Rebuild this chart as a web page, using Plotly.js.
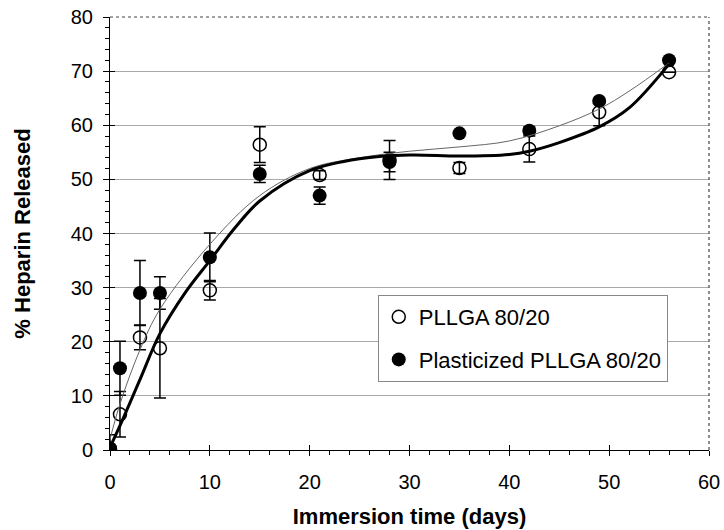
<!DOCTYPE html>
<html>
<head>
<meta charset="utf-8">
<script src="https://cdn.plot.ly/plotly-3.0.1.min.js"></script>
<style>html,body{margin:0;padding:0;background:#fff;}#chart{width:724px;height:530px;}</style>
</head>
<body>
<div id="chart"></div>
<script>
// Data
const days = [0, 1, 3, 5, 10, 15, 21, 28, 35, 42, 49, 56];
const pllga = [0.2, 6.6, 20.8, 18.8, 29.5, 56.4, 50.8, 53.6, 52.1, 55.6, 62.4, 69.8];
const pllgaErr = [2.6, 4.2, 2.3, 9.2, 1.8, 3.3, 0.8, 3.6, 1.0, 2.4, 2.5, 0];
const plast = [0.3, 15.1, 29.0, 29.0, 35.6, 51.0, 47.0, 53.2, 58.5, 59.0, 64.5, 72.0];
const plastErr = [0, 5.0, 6.0, 3.0, 4.5, 1.6, 1.6, 1.8, 0, 0.7, 0, 0];

// Trend lines
const thinX = [0, 1, 3, 5, 10, 15, 20, 25, 30, 35, 40, 45, 49, 52, 56];
const thinY = [2, 8.5, 18.5, 26, 38, 47, 52, 54, 55.2, 56.0, 57.1, 59.9, 63.0, 66.3, 71.5];
const thickX = [0, 1, 3, 5, 7.5, 10, 12.5, 15, 20, 25, 30, 35, 40, 42, 45, 49, 52, 56];
const thickY = [0.5, 4.5, 13, 21.5, 29, 35, 41, 46, 51.6, 53.8, 54.5, 54.3, 54.6, 55.2, 56.8, 59.7, 63.2, 71.3];

const seriesNames = ['PLLGA 80/20', 'Plasticized PLLGA 80/20'];
const xTitle = 'Immersion time (days)';
const yTitle = '% Heparin Released';

const FONT = 'Liberation Sans, Arial, sans-serif';

const traces = [
  {
    x: thinX, y: thinY, type: 'scatter', mode: 'lines',
    line: {color: '#666', width: 1, shape: 'spline', smoothing: 1},
    showlegend: false, hoverinfo: 'skip', xaxis: 'x2', yaxis: 'y2'
  },
  {
    x: thickX, y: thickY, type: 'scatter', mode: 'lines',
    line: {color: '#000', width: 3, shape: 'spline', smoothing: 1},
    showlegend: false, hoverinfo: 'skip', xaxis: 'x2', yaxis: 'y2'
  },
  {
    x: days, y: pllga, name: seriesNames[0], type: 'scatter', mode: 'markers',
    marker: {symbol: 'circle-open', size: 13, color: '#000', line: {width: 1.5, color: '#000'}},
    error_y: {type: 'data', array: pllgaErr, visible: true, color: '#000', thickness: 1.5, width: 6},
    legendgroup: 'a'
  },
  {
    x: days, y: plast, name: seriesNames[1], type: 'scatter', mode: 'markers',
    marker: {symbol: 'circle', size: 14, color: '#000'},
    error_y: {type: 'data', array: plastErr, visible: true, color: '#000', thickness: 1.5, width: 6},
    legendgroup: 'b'
  }
];

const layout = {
  width: 724, height: 530,
  margin: {l: 110, r: 15, t: 17, b: 80},
  paper_bgcolor: '#fff', plot_bgcolor: '#fff',
  font: {family: FONT, size: 20, color: '#000'},
  showlegend: true,
  legend: {
    x: 0.447, y: 0.358, xanchor: 'left', yanchor: 'top',
    bgcolor: '#fff', bordercolor: '#888', borderwidth: 1,
    font: {family: FONT, size: 22, color: '#000'},
    traceorder: 'grouped', tracegroupgap: 11, itemwidth: 30
  },
  xaxis: {
    range: [0, 60], dtick: 10, tick0: 0,
    showgrid: false, zeroline: false,
    showline: true, linecolor: '#000', linewidth: 1,
    ticks: 'outside', ticklen: 5, tickcolor: '#000', tickwidth: 1,
    minor: {dtick: 2, ticks: 'outside', ticklen: 4, tickcolor: '#000', showgrid: false},
    ticklabelstandoff: 9,
    tickfont: {family: FONT, size: 20, color: '#000'},
    title: {text: xTitle, font: {family: FONT, size: 22, color: '#000', weight: 'bold'}, standoff: 16},
    fixedrange: true
  },
  yaxis: {
    range: [0, 80], dtick: 10, tick0: 0,
    showgrid: true, gridcolor: '#aaa', gridwidth: 1, zeroline: false,
    showline: true, linecolor: '#000', linewidth: 1,
    ticks: 'outside', ticklen: 6, tickcolor: '#000', tickwidth: 1,
    minor: {dtick: 2, ticks: 'outside', ticklen: 4, tickcolor: '#000', showgrid: false},
    ticklabelstandoff: 6,
    tickfont: {family: FONT, size: 20, color: '#000'},
    title: {text: yTitle, font: {family: FONT, size: 22, color: '#000', weight: 'bold'}, standoff: 34},
    fixedrange: true
  },
  xaxis2: {
    overlaying: 'x', range: [0, 60], dtick: 10, tick0: 0,
    ticks: 'inside', ticklen: 5, tickcolor: '#000', showticklabels: false,
    showgrid: false, zeroline: false, showline: false, fixedrange: true
  },
  yaxis2: {
    overlaying: 'y', range: [0, 80], dtick: 10, tick0: 0,
    ticks: 'inside', ticklen: 5, tickcolor: '#000', showticklabels: false,
    showgrid: false, zeroline: false, showline: false, fixedrange: true, side: 'left'
  },
  shapes: [
    {type: 'line', xref: 'paper', yref: 'paper', x0: 0, x1: 1, y0: 1, y1: 1,
     line: {color: '#444', width: 1.2, dash: 'dot'}},
    {type: 'line', xref: 'paper', yref: 'paper', x0: 1, x1: 1, y0: 0, y1: 1,
     line: {color: '#444', width: 1.2, dash: 'dot'}}
  ]
};

Plotly.newPlot('chart', traces, layout, {staticPlot: true, displayModeBar: false});
</script>
</body>
</html>
